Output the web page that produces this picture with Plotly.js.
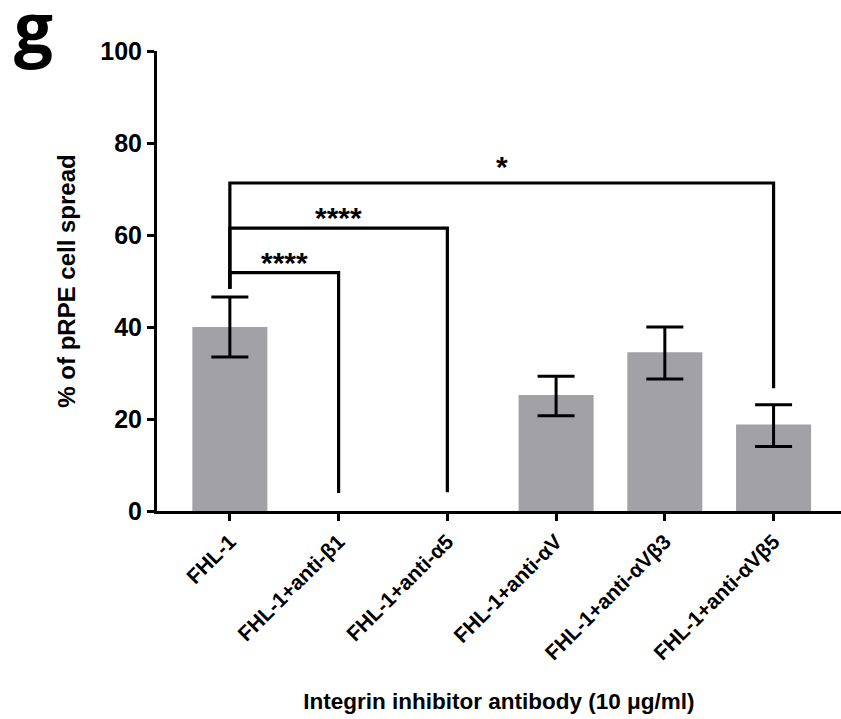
<!DOCTYPE html>
<html>
<head>
<meta charset="utf-8">
<script src="https://cdn.plot.ly/plotly-3.0.1.min.js"></script>
<style>html,body{margin:0;padding:0;background:#fff}#chart{width:841px;height:719px}</style>
</head>
<body>
<div id="chart"></div>
<script>
// ---- data ----
const categories = ["FHL-1", "FHL-1+anti-β1", "FHL-1+anti-α5", "FHL-1+anti-αV", "FHL-1+anti-αVβ3", "FHL-1+anti-αVβ5"];
const meanSpread = [40.0, 0, 0, 25.2, 34.5, 18.8];
const errUpper = [6.5, 0, 0, 4.1, 5.5, 4.3];
const errLower = [6.5, 0, 0, 4.5, 5.8, 4.8];
const showError = [true, false, false, true, true, true];
// significance brackets: from index, to index, bracket height, bottom of left leg, bottom of right leg, label
const bracketFrom = [0, 0, 0];
const bracketTo = [1, 2, 5];
const bracketHeight = [51.8, 61.5, 71.3];
const bracketLeftBottom = [48.3, 48.3, 48.3];
const bracketRightBottom = [3.9, 4.1, 26.7];
const bracketLabel = ["****", "****", "*"];
const yTicks = [0, 20, 40, 60, 80, 100];

const FONT = "'Liberation Sans', Arial, Helvetica, sans-serif";

const traces = [];
traces.push({
  type: "bar",
  x: categories,
  y: meanSpread,
  width: 0.69,
  marker: {color: "#a2a2a6"},
  hoverinfo: "skip"
});
const ex = [], ey = [], eu = [], el = [];
categories.forEach((c, i) => {
  if (showError[i]) { ex.push(c); ey.push(meanSpread[i]); eu.push(errUpper[i]); el.push(errLower[i]); }
});
traces.push({
  type: "scatter", mode: "markers",
  x: ex, y: ey,
  marker: {size: 1, opacity: 0},
  error_y: {type: "data", symmetric: false, array: eu, arrayminus: el, color: "#000", thickness: 3, width: 18.5},
  hoverinfo: "skip"
});
const annotations = [];
for (let k = 0; k < bracketFrom.length; k++) {
  const a = categories[bracketFrom[k]], b = categories[bracketTo[k]];
  traces.push({
    type: "scatter", mode: "lines",
    x: [a, a, b, b],
    y: [bracketLeftBottom[k], bracketHeight[k], bracketHeight[k], bracketRightBottom[k]],
    line: {color: "#000", width: 3.2},
    hoverinfo: "skip"
  });
  annotations.push({
    x: (bracketFrom[k] + bracketTo[k]) / 2, y: bracketHeight[k],
    xref: "x", yref: "y", text: "<b>" + bracketLabel[k] + "</b>",
    showarrow: false, yanchor: "bottom", yshift: bracketLabel[k] === "*" ? -2 : -8,
    font: {family: FONT, size: 30, color: "#000"}
  });
}
annotations.push({
  x: 0, y: 1, xref: "paper", yref: "paper", xanchor: "left", yanchor: "top",
  text: "<b>g</b>", showarrow: false, xshift: -145, yshift: 74,
  font: {family: "'Open Sans', sans-serif", size: 69, color: "#000"}
});

const layout = {
  width: 841, height: 719,
  margin: {l: 157, r: 0, t: 51, b: 208},
  paper_bgcolor: "#fff", plot_bgcolor: "#fff",
  showlegend: false,
  xaxis: {
    type: "category",
    range: [-0.67, 5.62],
    showline: true, linecolor: "#000", linewidth: 3,
    ticks: "outside", ticklen: 7, tickwidth: 3, tickcolor: "#000",
    tickangle: -45,
    tickfont: {family: FONT, size: 21, color: "#000", weight: "bold"},
    showgrid: false, zeroline: false, fixedrange: true,
    title: {text: "<b>Integrin inhibitor antibody (10 μg/ml)</b>", font: {family: FONT, size: 22.5, color: "#000"}, standoff: 30}
  },
  yaxis: {
    range: [0, 100],
    tickvals: yTicks,
    showline: true, linecolor: "#000", linewidth: 3,
    ticks: "outside", ticklen: 7, tickwidth: 3, tickcolor: "#000",
    tickfont: {family: FONT, size: 25, color: "#000", weight: "bold"},
    showgrid: false, zeroline: false, fixedrange: true,
    title: {text: "<b>% of pRPE cell spread</b>", font: {family: FONT, size: 24, color: "#000"}, standoff: 18}
  },
  annotations: annotations
};
Plotly.newPlot("chart", traces, layout, {displayModeBar: false, staticPlot: true});
</script>
</body>
</html>
